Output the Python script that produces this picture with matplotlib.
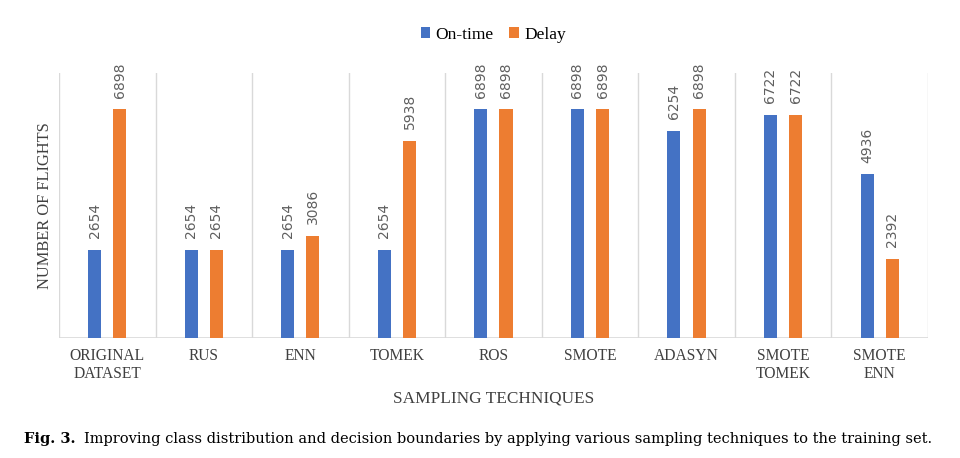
import matplotlib
matplotlib.use("Agg")
import matplotlib.pyplot as plt
import numpy as np

categories = ["ORIGINAL\nDATASET", "RUS", "ENN", "TOMEK", "ROS", "SMOTE",
              "ADASYN", "SMOTE\nTOMEK", "SMOTE\nENN"]
on_time = [2654, 2654, 2654, 2654, 6898, 6898, 6254, 6722, 4936]
delay = [6898, 2654, 3086, 5938, 6898, 6898, 6898, 6722, 2392]

blue = "#4472C4"
orange = "#ED7D31"
grey_txt = "#5f5f5f"
serif = "Liberation Serif"

fig = plt.figure(figsize=(9.6, 4.58), dpi=100)
ax = fig.add_axes([0.0615, 0.262, 0.905, 0.579])

x = np.arange(len(categories))
w = 0.135
off = 0.13
b1 = ax.bar(x - off, on_time, w, color=blue, label="On-time")
b2 = ax.bar(x + off, delay, w, color=orange, label="Delay")

for bars in (b1, b2):
    for r in bars:
        ax.annotate(str(int(r.get_height())),
                    (r.get_x() + r.get_width() / 2, r.get_height()),
                    xytext=(0, 8.5), textcoords="offset points",
                    rotation=90, ha="center", va="bottom",
                    fontsize=10, color=grey_txt, family="DejaVu Sans")

ax.set_xlim(-0.5, len(categories) - 0.5)
ax.set_ylim(0, 8000)
# separators between categories
for xs in np.arange(-0.5, len(categories), 1.0):
    ax.axvline(xs, color="#d9d9d9", lw=1, zorder=0)
for s in ax.spines.values():
    s.set_visible(False)
ax.axhline(0, color="#d9d9d9", lw=1.2, zorder=0)
ax.set_yticks([])
ax.set_xticks(x)
ax.set_xticklabels(categories, family=serif, fontsize=11.2, color="#404040",
                   linespacing=1.2)
ax.tick_params(axis="x", length=0, pad=7)

ax.set_xlabel("SAMPLING TECHNIQUES", family=serif, fontsize=12.4,
              color="#404040", labelpad=6)
ax.set_ylabel("NUMBER OF FLIGHTS", family=serif, fontsize=11.8,
              color="#404040", labelpad=4)

ax.legend(loc="lower center", bbox_to_anchor=(0.5, 1.055), ncol=2,
          frameon=False, handlelength=0.55, handleheight=0.55,
          handletextpad=0.3, columnspacing=0.9,
          prop={"family": serif, "size": 12.5})

# caption: bold label followed by plain text
fig.canvas.draw()
r = fig.canvas.get_renderer()
t0 = fig.text(0.025, 0.033, "Fig. 3.", family="DejaVu Serif",
              fontweight="bold", fontsize=10.5)
bb = t0.get_window_extent(renderer=r)
fig.text((bb.x1 + 8) / fig.bbox.width, 0.033,
         "Improving class distribution and decision boundaries by applying various sampling techniques to the training set.",
         family="DejaVu Serif", fontsize=10.5, color="black")

fig.savefig("out.png", dpi=100)
